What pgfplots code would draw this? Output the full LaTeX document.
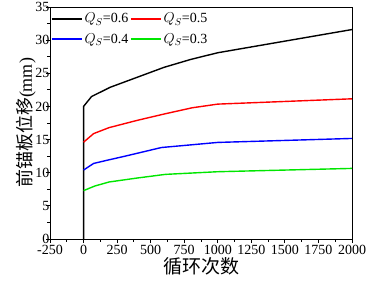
\documentclass[border=0pt]{standalone}
\usepackage{fontspec}
\setmainfont{Liberation Serif}
\newfontfamily\cjk{Noto Sans CJK SC}
\usepackage{pgfplots}
\pgfplotsset{compat=1.18}
\begin{document}
\begin{tikzpicture}
\begin{axis}[
  scale only axis,
  width=302bp, height=232bp,
  xmin=-250, xmax=2000, ymin=0, ymax=35,
  xtick={-250,0,250,500,750,1000,1250,1500,1750,2000},
  ytick={0,5,10,15,20,25,30,35},
  minor x tick num=1, minor y tick num=1,
  tick align=outside,
  xtick pos=bottom, ytick pos=left,
  major tick length=4bp, minor tick length=2.5bp,
  every tick/.style={black, line width=0.8bp},
  axis line style={line width=0.9bp},
  /pgf/number format/assume math mode=true,
  /pgf/number format/1000 sep={},
  ticklabel style={font=\fontsize{14bp}{16bp}\selectfont},
  xticklabel style={yshift=1bp},
  yticklabel style={inner xsep=0bp, xshift=3.5bp},
  xlabel={\cjk\fontsize{19bp}{21bp}\selectfont 循环次数},
  ylabel={\fontsize{18bp}{20bp}\selectfont{\cjk 前锚板位移}(mm)},
  xlabel style={yshift=4bp},
  ylabel style={yshift=-4bp},
  legend columns=2,
  legend style={draw=none, fill=none, at={(rel axis cs:0,1)}, anchor=north west,
    xshift=0bp, yshift=-3bp,
    font=\fontsize{14bp}{16bp}\selectfont, inner sep=1bp, row sep=5bp,
    /tikz/every even column/.append style={column sep=0bp}},
  legend cell align=left,
  legend image code/.code={\draw[mark repeat=2,mark phase=2,#1] plot coordinates {(0bp,0bp) (15bp,0bp) (30bp,0bp)};},
]
\coordinate (A0) at (rel axis cs:0,0);
\coordinate (A1) at (rel axis cs:1,1);
\addplot[black, line width=1.4bp] coordinates {(0,0) (0,20) (60,21.5) (200,22.9) (400,24.4) (600,25.9) (800,27.1) (1000,28.1) (2000,31.6)};
\addlegendentry{$Q_S$=0.6}
\addplot[red, line width=1.4bp] coordinates {(0,14.6) (75,15.9) (190,16.8) (400,17.9) (610,18.9) (810,19.8) (1000,20.35) (2000,21.15)};
\addlegendentry{$Q_S$=0.5}
\addplot[blue, line width=1.4bp] coordinates {(0,10.4) (75,11.4) (180,11.9) (310,12.5) (580,13.8) (1000,14.57) (2000,15.17)};
\addlegendentry{$Q_S$=0.4}
\addplot[color={rgb,255:red,0;green,230;blue,0}, line width=1.4bp] coordinates {(0,7.3) (85,8.0) (190,8.6) (400,9.2) (610,9.75) (1000,10.15) (2000,10.65)};
\addlegendentry{$Q_S$=0.3}
\end{axis}
\pgfresetboundingbox
\path ([shift={(-50bp,-43bp)}]A0) rectangle ([shift={(15bp,7bp)}]A1);
\end{tikzpicture}
\end{document}
